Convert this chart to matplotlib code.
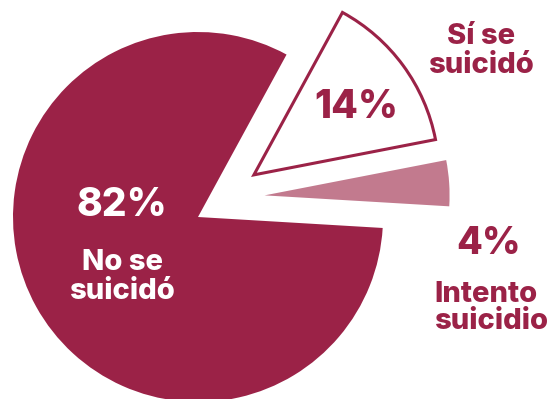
import numpy as np
import matplotlib.pyplot as plt

plt.rcParams['font.family'] = ['Inter', 'DejaVu Sans']

# ------------------------------------------------------------
# Data
# ------------------------------------------------------------
labels = ["Sí se\nsuicidó", "No se\nsuicidó", "Intento\nsuicidio"]
shares = [14, 82, 4]

# ------------------------------------------------------------
# Style
# ------------------------------------------------------------
MAROON = "#9B2247"
PINK = "#C27A8E"

face_colors = ["white", MAROON, PINK]
edge_colors = [MAROON, MAROON, PINK]
edge_widths = [2.2, 0, 0]

# slice shift: (distance, direction in degrees), in pixel units
shifts = [(70, 37), (0, 0), (70, 18)]

W, H = 550, 399
center = (198, H - 217)
radius = 185

fig = plt.figure(figsize=(W / 100, H / 100), dpi=100)
ax = fig.add_axes([0, 0, 1, 1])

wedges, _ = ax.pie(
    shares,
    colors=face_colors,
    startangle=11,
    counterclock=True,
    radius=radius,
    center=center,
    wedgeprops=dict(linewidth=0),
)

for w, ec, lw, (d, a) in zip(wedges, edge_colors, edge_widths, shifts):
    w.set_edgecolor(ec)
    w.set_linewidth(lw)
    w.set_joinstyle("miter")
    cx, cy = w.center
    w.set_center((cx + d * np.cos(np.radians(a)), cy + d * np.sin(np.radians(a))))

ax.set_xlim(0, W)
ax.set_ylim(0, H)
ax.set_aspect("equal")
ax.axis("off")

WT = "heavy"

# percentage labels
ax.text(122, H - 205, f"{shares[1]}%", color="white", fontsize=28,
        fontweight=WT, ha="center", va="center")
ax.text(122, H - 277, labels[1], color="white", fontsize=21,
        fontweight=WT, ha="center", va="center", linespacing=1.05)

ax.text(356, H - 108, f"{shares[0]}%", color=MAROON, fontsize=28,
        fontweight=WT, ha="center", va="center")
ax.text(481, H - 51, labels[0], color=MAROON, fontsize=21,
        fontweight=WT, ha="center", va="center", linespacing=1.05)

ax.text(489, H - 244, f"{shares[2]}%", color=MAROON, fontsize=27,
        fontweight=WT, ha="center", va="center")
ax.text(434, H - 308, labels[2], color=MAROON, fontsize=21,
        fontweight=WT, ha="left", va="center", linespacing=1.0)

fig.savefig("out.png", dpi=100)
